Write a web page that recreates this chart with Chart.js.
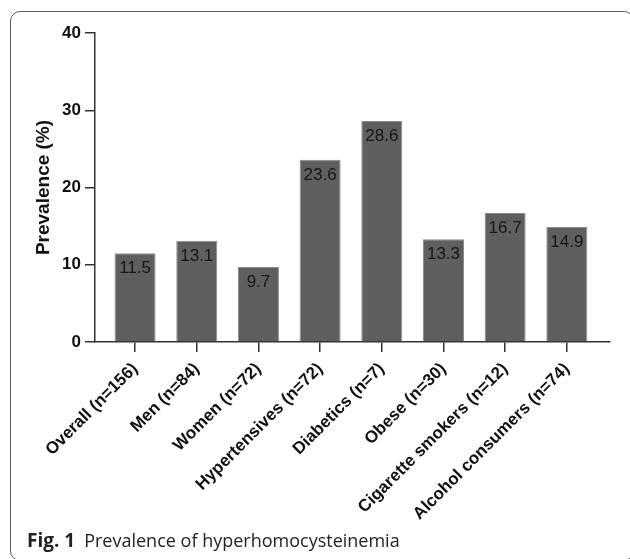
<!DOCTYPE html>
<html>
<head>
<meta charset="utf-8">
<script src="https://cdn.jsdelivr.net/npm/chart.js@4/dist/chart.umd.min.js"></script>
<style>
  html, body { margin: 0; padding: 0; background: #fff; width: 630px; height: 559px; overflow: hidden; }
  #wrap { position: relative; width: 630px; height: 559px; }
  #frame { position: absolute; left: 10px; top: 11px; width: 624px; height: 550px; border: 1px solid #5a5a5a; border-radius: 10px; box-sizing: border-box; }
  #cv { position: absolute; left: 0; top: 0; }
  #caption { position: absolute; left: 27px; top: 530px; font-family: "Open Sans", sans-serif; font-size: 18px; color: #222; white-space: nowrap; line-height: 20px; }
  #caption b { font-weight: 700; font-size: 19px; margin-right: 9px; }
</style>
</head>
<body>
<div id="wrap">
  <div id="frame"></div>
  <canvas id="cv" width="630" height="559"></canvas>
  <div id="caption"><b>Fig. 1</b>Prevalence of hyperhomocysteinemia</div>
</div>
<script>
const categories = ["Overall (n=156)", "Men (n=84)", "Women (n=72)", "Hypertensives (n=72)", "Diabetics (n=7)", "Obese (n=30)", "Cigarette smokers (n=12)", "Alcohol consumers (n=74)"];
const prevalence = [11.5, 13.1, 9.7, 23.6, 28.6, 13.3, 16.7, 14.9];
const yTicks = [0, 10, 20, 30, 40];
const yTitle = "Prevalence (%)";

const valueLabels = {
  id: 'valueLabels',
  afterDatasetsDraw(chart) {
    const ctx = chart.ctx;
    const meta = chart.getDatasetMeta(0);
    ctx.save();
    ctx.font = '17px "Liberation Sans", Arial, sans-serif';
    ctx.fillStyle = '#161616';
    ctx.textAlign = 'center';
    ctx.textBaseline = 'top';
    meta.data.forEach((bar, i) => {
      ctx.fillText(prevalence[i].toFixed(1), bar.x, bar.y + 7);
    });
    ctx.restore();
  }
};

new Chart(document.getElementById('cv'), {
  type: 'bar',
  data: {
    datasets: [{
      data: prevalence.map((v, i) => ({ x: i, y: v })),
      backgroundColor: '#5f5f5f',
      borderColor: '#8a8a8a',
      borderWidth: 1,
      barPercentage: 0.665,
      categoryPercentage: 1.0
    }]
  },
  options: {
    responsive: false,
    animation: false,
    layout: { padding: { top: 33, left: 0, right: 20, bottom: 0 } },
    plugins: { legend: { display: false }, tooltip: { enabled: false } },
    scales: {
      x: {
        type: 'linear',
        offset: false,
        min: -0.65,
        max: 7.7,
        afterBuildTicks: (scale) => { scale.ticks = categories.map((_, i) => ({ value: i })); },
        afterFit: (scale) => { scale.height = 217; },
        grid: { offset: false, drawOnChartArea: false, drawTicks: true, tickLength: 10, color: '#333', lineWidth: 1.5 },
        border: { color: '#333', width: 1.5 },
        ticks: {
          autoSkip: false,
          minRotation: 45,
          maxRotation: 45,
          padding: 7,
          color: '#111',
          font: { family: '"Liberation Sans", Arial, sans-serif', size: 17, weight: 'bold' },
          callback: (v) => categories[v]
        }
      },
      y: {
        min: 0,
        max: 40,
        afterBuildTicks: (scale) => { scale.ticks = yTicks.map(v => ({ value: v })); },
        afterFit: (scale) => { scale.width = 95; },
        grid: { drawOnChartArea: false, drawTicks: true, tickLength: 10, color: '#333', lineWidth: 1.5 },
        border: { color: '#333', width: 1.5 },
        ticks: {
          padding: 4,
          color: '#111',
          font: { family: '"Liberation Sans", Arial, sans-serif', size: 17, weight: 'bold' }
        },
        title: {
          display: true,
          text: yTitle,
          color: '#111',
          padding: { top: 32, bottom: 0 },
          font: { family: '"Liberation Sans", Arial, sans-serif', size: 19, weight: 'bold' }
        }
      }
    }
  },
  plugins: [valueLabels]
});
</script>
</body>
</html>
